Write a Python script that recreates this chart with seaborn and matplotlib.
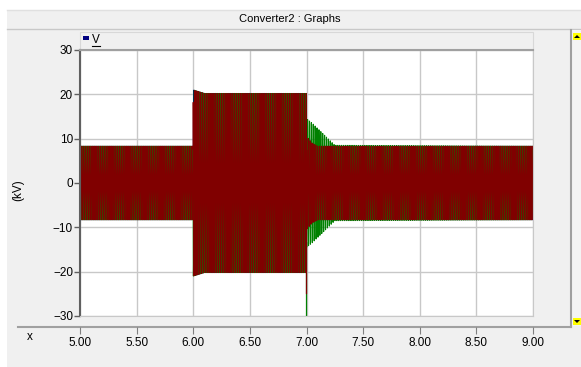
import numpy as np
import pandas as pd
import matplotlib
matplotlib.use('Agg')
import matplotlib.pyplot as plt
import seaborn as sns
from matplotlib.lines import Line2D
from matplotlib.patches import Rectangle, Polygon

# peak envelope of each phase voltage (kV)
blue_t = [5.00, 6.00, 6.00, 6.10, 7.00, 7.00, 7.10, 9.00]
blue_amp = [8.3, 8.3, 21.0, 20.2, 20.2, 9.5, 8.3, 8.3]
green_t = [5.00, 6.00, 6.00, 6.10, 7.00, 7.00, 7.05, 7.15, 7.25, 9.00]
green_amp = [8.3, 8.3, 21.0, 20.2, 20.2, 14.5, 13.5, 11.0, 8.5, 8.3]
red_t = [5.00, 6.00, 6.00, 6.10, 7.00, 7.00, 7.05, 7.10, 9.00]
red_amp = [8.3, 8.3, 21.0, 20.2, 20.2, 10.5, 9.0, 8.3, 8.3]
phase_deg = [0, -120, 120]
freq_hz = 60
plot_step = 1 / 3000
# transient spike at breaker opening
spike_t = 7.0
spike_vals = {'green': -30.0, 'red': -25.0}

x_ticks = [5.0, 5.5, 6.0, 6.5, 7.0, 7.5, 8.0, 8.5, 9.0]
x_labels = ['5.00', '5.50', '6.00', '6.50', '7.00', '7.50', '8.00', '8.50', '9.00']
y_ticks = [-30, -20, -10, 0, 10, 20, 30]

colors = {'blue': '#000080', 'green': '#008000', 'red': '#800000'}

W, H = 581, 367
fig = plt.figure(figsize=(W / 100, H / 100), dpi=100)
fig.patch.set_facecolor('white')
plt.rcParams['font.family'] = ['Liberation Sans', 'DejaVu Sans']


def fx(px):
    return px / W


def fy(py):
    return 1 - py / H


# window chrome
fig.patches.append(Rectangle((fx(7), fy(367)), fx(574), fy(10) - fy(367),
                             transform=fig.transFigure, facecolor='#f0f0f0', edgecolor='none', zorder=-10))
fig.lines.append(Line2D([fx(7), fx(581)], [fy(10), fy(10)], transform=fig.transFigure, color='#e0e0e0', lw=1, zorder=-9))
fig.lines.append(Line2D([fx(7), fx(581)], [fy(28.5), fy(28.5)], transform=fig.transFigure, color='#c8c8c8', lw=1, zorder=-9))
fig.text(fx(290), fy(18.5), 'Converter2 : Graphs', ha='center', va='center', fontsize=8)
# legend band
fig.patches.append(Rectangle((fx(80), fy(50)), fx(453), fy(32) - fy(50), transform=fig.transFigure,
                             facecolor='#f0f0f0', edgecolor='#d8d8d8', lw=0.8, zorder=-8))
fig.patches.append(Rectangle((fx(83), fy(40)), fx(6), fy(36) - fy(40), transform=fig.transFigure,
                             facecolor='#000080', edgecolor='none', zorder=-7))
fig.text(fx(92), fy(40), 'V', ha='left', va='center', fontsize=8.5)
fig.lines.append(Line2D([fx(92), fx(100)], [fy(46), fy(46)], transform=fig.transFigure, color='black', lw=0.8))
# scrollbar
fig.lines.append(Line2D([fx(571), fx(571)], [fy(30), fy(327)], transform=fig.transFigure, color='#a0a0a0', lw=1.5, zorder=-7))
fig.patches.append(Rectangle((fx(572), fy(326)), fx(9), fy(30) - fy(326), transform=fig.transFigure,
                             facecolor='#f4f4f4', edgecolor='none', zorder=-8))
for yb, up in [(33, True), (318, False)]:
    fig.patches.append(Rectangle((fx(573), fy(yb + 7)), fx(8), fy(yb) - fy(yb + 7), transform=fig.transFigure,
                                 facecolor='#ffff00', edgecolor='none', zorder=-6))
    if up:
        tri = [(fx(574), fy(yb + 5)), (fx(580), fy(yb + 5)), (fx(577), fy(yb + 2))]
    else:
        tri = [(fx(574), fy(yb + 2)), (fx(580), fy(yb + 2)), (fx(577), fy(yb + 5))]
    fig.patches.append(Polygon(tri, closed=True, transform=fig.transFigure, facecolor='black', zorder=-5))
# x axis separator
fig.lines.append(Line2D([fx(18), fx(571)], [fy(326.5), fy(326.5)], transform=fig.transFigure, color='#a0a0a0', lw=1.5, zorder=-7))

ax = fig.add_axes([fx(80), fy(316), fx(453), fy(50) - fy(316)])
ax.set_zorder(5)
ax.set_facecolor('white')

t = np.arange(5.0, 9.0, plot_step)
series = {'blue': (blue_t, blue_amp), 'green': (green_t, green_amp), 'red': (red_t, red_amp)}
frames = []
for (name, (et, ea)), ph in zip(series.items(), phase_deg):
    env = np.interp(t, et, ea)
    # step change at the event times (use right-hand value after each jump)
    for k in range(1, len(et)):
        if et[k] == et[k - 1]:
            env[t >= et[k]] = np.interp(t[t >= et[k]], et[k:], ea[k:])
    v = env * np.sin(2 * np.pi * freq_hz * t + np.deg2rad(ph))
    if name in spike_vals:
        i = np.searchsorted(t, spike_t)
        v[i] = spike_vals[name]
    frames.append(pd.DataFrame({'t': t, 'v': v, 'phase': name}))
df = pd.concat(frames, ignore_index=True)

for name in ['blue', 'green', 'red']:
    sub = df[df['phase'] == name]
    sns.lineplot(x=sub['t'], y=sub['v'], color=colors[name], lw=0.8, ax=ax,
                 estimator=None, sort=False, legend=False)

ax.set_xlim(5, 9)
ax.set_ylim(-30, 30)
ax.set_xticks(x_ticks)
ax.set_yticks(y_ticks)
ax.set_xticklabels([])
ax.set_xlabel('')
ax.set_ylabel('')
ax.grid(True, color='#c8c8c8', lw=1)
ax.set_axisbelow(True)
ax.tick_params(axis='x', length=0)
ax.tick_params(axis='y', length=4, width=1, color='#606060', labelsize=8.5, pad=1)
for s in ['right', 'bottom']:
    ax.spines[s].set_color('#c8c8c8')
ax.spines['top'].set_color('#a0a0a0')
ax.spines['top'].set_linewidth(1.5)
ax.spines['left'].set_color('#606060')
ax.spines['left'].set_linewidth(1.5)

axb = fig.add_axes([fx(80), fy(327), fx(453), 0.0001])
axb.set_zorder(5)
axb.set_xlim(5, 9)
axb.set_xticks(x_ticks)
axb.set_xticklabels(x_labels, fontsize=8.5)
axb.set_yticks([])
for s in axb.spines.values():
    s.set_visible(False)
axb.patch.set_alpha(0)
axb.tick_params(axis='x', length=5, color='#808080', pad=2)

fig.text(fx(30), fy(337), 'x', ha='center', va='center', fontsize=8.5)
fig.text(fx(18), fy(190), '(kV)', ha='center', va='center', rotation=90, fontsize=8.5)

plt.savefig('out.png', dpi=100)
